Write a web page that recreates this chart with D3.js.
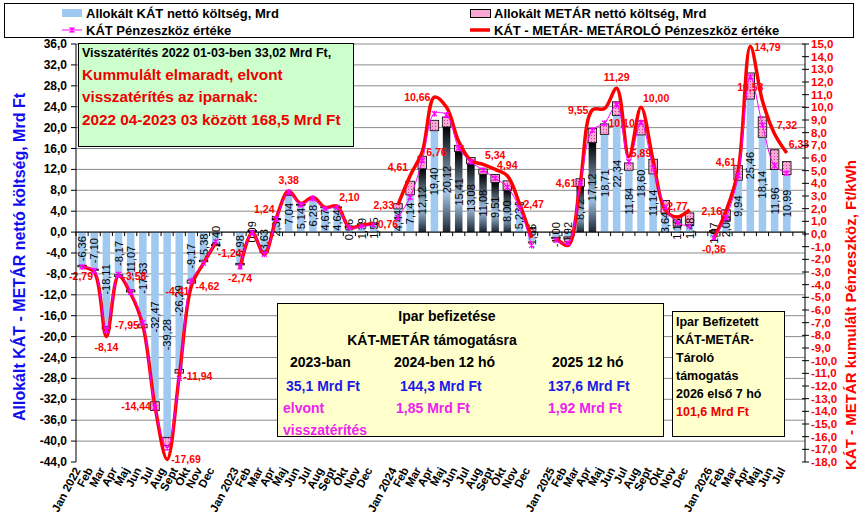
<!DOCTYPE html>
<html>
<head>
<meta charset="utf-8">
<script src="https://cdn.jsdelivr.net/npm/d3@7"></script>
<style>
  body { margin: 0; background: #fff; }
  svg { display: block; font-family: Arial, "Liberation Sans", sans-serif; }
</style>
</head>
<body>
<script>
const WIDTH = 859;
const HEIGHT = 525;
const PLOT = {left: 76, right: 805, top: 44, bottom: 462};

// categories, "" = spacer between the years
const CATEGORIES = ["Jan 2022","Feb","Mar","Apr","Maj","Jun","Jul","Aug","Sept","Okt","Nov","Dec","",
                    "Jan 2023","Feb","Mar","Apr","Maj","Jun","Jul","Aug","Sept","Okt","Nov","Dec","",
                    "Jan 2024","Feb","Mar","Apr","Maj","Jun","Jul","Aug","Sept","Okt","Nov","Dec","",
                    "Jan 2025","Feb","Mar","Apr","Maj","Jun","Jul","Aug","Sept","Okt","Nov","Dec","",
                    "Jan 2026","Feb","Mar","Apr","Maj","Jun","Jul",""];

// Allokált KÁT nettó költség, Mrd Ft (left axis)
const KAT = [-6.36,-7.10,-18.11,-8.17,-11.07,-17.63,-32.47,-39.28,-26.29,-9.17,-5.38,-2.40,null,
             -5.98,0.09,-3.63,2.37,7.04,5.14,6.28,4.67,4.64,0.96,1.39,1.55,null,
             4.44,7.14,12.12,19.40,20.12,15.41,13.08,11.08,9.51,8.00,5.23,-1.66,null,
             -1.00,-0.92,8.72,17.12,18.71,22.34,11.84,18.60,11.14,3.64,1.16,1.48,null,
             -1.07,2.08,9.94,25.46,18.14,11.96,10.99,null];

// Allokált METÁR nettó költség, Mrd Ft (stacked on KÁT)
const METAR = [-0.3,-0.2,-0.4,-0.3,-0.4,-0.7,-1.7,-1.6,-0.7,-0.6,-0.3,-0.2,null,
               -0.3,0.2,-0.2,0.2,0.2,0.2,0.2,0.2,0.2,0.2,0.2,0.2,null,
               1.0,2.6,2.4,2.0,1.9,1.2,1.2,1.0,1.5,1.8,0.4,0.9,null,
               -0.2,-0.4,1.5,2.7,2.0,2.6,1.4,2.7,2.8,2.4,1.9,2.2,null,
               0.3,2.2,2.8,5.0,3.9,3.8,2.5,null];

// KÁT - METÁR - METÁROLÓ Pénzeszköz értéke, Ft/kWh (right axis)
const KMM_PENZ = [-2.6,-3.0,-8.1,-3.3,-4.7,-7.2,-13.6,-17.8,-11.2,-4.1,-2.3,-0.7,null,
                  -2.7,0.1,-1.6,1.3,3.4,2.4,2.9,2.1,2.2,0.5,0.7,0.8,null,
                  2.3,4.6,6.5,10.8,10.0,7.3,5.8,5.5,5.1,4.6,2.4,-0.3,null,
                  -0.3,-0.9,4.0,9.8,9.9,11.5,6.1,10.0,5.8,1.9,1.35,1.9,null,
                  -0.36,1.8,5.0,14.8,10.5,7.9,6.4,null];

// KÁT Pénzeszköz értéke, Ft/kWh (right axis)
const KAT_PENZ = [-2.6,-2.9,-7.6,-3.2,-4.6,-7.0,-13.7,-16.9,-11.4,-3.7,-2.3,-0.6,null,
                  -2.6,0.1,-1.6,1.2,3.3,2.3,2.8,2.0,2.1,0.5,0.6,0.7,null,
                  1.3,2.9,5.8,9.5,9.4,6.8,5.7,5.05,4.4,3.7,2.05,-0.9,null,
                  -0.5,-0.7,4.0,8.2,8.75,10.2,5.7,8.8,5.2,2.1,0.9,0.6,null,
                  -0.3,1.3,4.6,12.4,8.6,5.4,4.8,null];

// data labels of the lines
const KMM_LABELS = ["-2,79",null,"-8,14","-3,58",null,"-7,95","-14,44","-17,69","-11,94","-4,62",null,"-1,24",null,
                    "-2,74",null,null,"1,24","3,38",null,null,null,"2,10",null,null,"0,76",null,
                    "2,33","4,61","6,76","10,66",null,null,null,"5,34",null,"4,94","2,47",null,null,
                    null,null,"4,61","9,55",null,"11,29",null,"10,00",null,null,"2,77",null,null,
                    "-0,36","2,16","4,61","14,79",null,"7,32","6,33",null];
const KAT_LABELS = {9: "-4,41", 43: "10,10", 45: "5,89", 55: "10,58"};

const LEFT_TICKS = d3.range(-44, 36.01, 4);
const RIGHT_TICKS = d3.range(-18, 15.01, 1);

//label placement around the point (style only)
const KMM_SIDE = {0:"bs",2:"b",3:"r",5:"l",6:"l",7:"r",8:"r",9:"r",11:"br",13:"b",16:"al",17:"a",21:"ar",24:"r",
                  26:"l",27:"al",28:"r",29:"l",33:"ar",35:"a",36:"r",41:"l",42:"l",44:"a",46:"ar",49:"a",
                  52:"b",53:"l",54:"al",55:"r",57:"ar",58:"ar"};
const KAT_SIDE = {9:"bl",43:"r",45:"ar",55:"b"};
const DARK_BARS = [28,30,31,32,33,34,35,41,42];

const BLUE_BAR = "#9fc9f0";
const RED = "#ff0000";
const MAGENTA = "#ff00ff";

const svg = d3.select("body")
              .append("svg")
              .attr("width", WIDTH)
              .attr("height", HEIGHT);

svg.append("rect").attr("width", WIDTH).attr("height", HEIGHT).attr("fill", "#fff");

const defs = svg.append("defs");
const grad = defs.append("linearGradient")
                 .attr("id", "darkBar")
                 .attr("x1", 0).attr("y1", 0).attr("x2", 0).attr("y2", 1);
[[0, "#000000"], [0.62, "#a7c9ea"], [1, "#1c2531"]].forEach(([o, c]) =>
  grad.append("stop").attr("offset", o).attr("stop-color", c));

const pat = defs.append("pattern")
                .attr("id", "metarFill")
                .attr("width", 3).attr("height", 3)
                .attr("patternUnits", "userSpaceOnUse");
pat.append("rect").attr("width", 3).attr("height", 3).attr("fill", "#f8a8d2");
pat.append("rect").attr("width", 1).attr("height", 1).attr("fill", "#e03aa8");

//the scales
const x = d3.scaleBand()
            .domain(d3.range(CATEGORIES.length))
            .range([PLOT.left, PLOT.right])
            .paddingInner(0.38)
            .paddingOuter(0.19);
const yL = d3.scaleLinear().domain([-44, 36]).range([PLOT.bottom, PLOT.top]);
const yR = d3.scaleLinear().domain([-18, 15]).range([PLOT.bottom, PLOT.top]);
const cx = i => x(i) + x.bandwidth() / 2;
const comma = v => d3.format(".1f")(v).replace(".", ",").replace("−", "-");
const IDX = d3.range(CATEGORIES.length);

//gridlines
svg.append("g")
   .selectAll("line")
   .data(LEFT_TICKS.filter(t => t > -44))
   .enter()
   .append("line")
   .attr("x1", PLOT.left).attr("x2", PLOT.right)
   .attr("y1", d => yL(d)).attr("y2", d => yL(d))
   .attr("stroke", "#8a8a8a");

//KÁT bars
svg.append("g")
   .selectAll("rect")
   .data(IDX.filter(i => KAT[i] != null))
   .enter()
   .append("rect")
   .attr("x", i => x(i))
   .attr("width", x.bandwidth())
   .attr("y", i => yL(Math.max(0, KAT[i])))
   .attr("height", i => Math.abs(yL(KAT[i]) - yL(0)))
   .attr("fill", i => DARK_BARS.includes(i) ? "url(#darkBar)" : BLUE_BAR);

//METÁR segments
const metarBase = i => Math.sign(METAR[i]) === Math.sign(KAT[i]) ? KAT[i] : 0;
svg.append("g")
   .selectAll("rect")
   .data(IDX.filter(i => METAR[i] != null))
   .enter()
   .append("rect")
   .attr("x", i => x(i) - 0.5)
   .attr("width", x.bandwidth() + 1)
   .attr("y", i => yL(Math.max(metarBase(i), metarBase(i) + METAR[i])))
   .attr("height", i => Math.abs(yL(metarBase(i) + METAR[i]) - yL(metarBase(i))))
   .attr("fill", "url(#metarFill)")
   .attr("stroke", "#000")
   .attr("stroke-width", 0.8);

//zero line with category ticks
svg.append("line")
   .attr("x1", PLOT.left).attr("x2", PLOT.right)
   .attr("y1", yL(0)).attr("y2", yL(0))
   .attr("stroke", "#000");
svg.append("g")
   .selectAll("line")
   .data(d3.range(CATEGORIES.length + 1))
   .enter()
   .append("line")
   .attr("x1", i => PLOT.left + i * x.step()).attr("x2", i => PLOT.left + i * x.step())
   .attr("y1", yL(0)).attr("y2", yL(0) + 4)
   .attr("stroke", "#000");

//bar value labels
svg.append("g")
   .selectAll("text")
   .data(IDX.filter(i => KAT[i] != null))
   .enter()
   .append("text")
   .attr("transform", i => "translate(" + (cx(i) + 4) + "," + ((yL(KAT[i]) + yL(0)) / 2) + ") rotate(-90)")
   .attr("text-anchor", "middle")
   .attr("font-size", 11)
   .attr("fill", "#000")
   .text(i => d3.format(".2f")(KAT[i]).replace(".", ",").replace("−", "-"));

//the lines
const lineGen = arr => d3.line()
                         .defined(i => arr[i] != null)
                         .x(i => cx(i))
                         .y(i => yR(arr[i]))
                         .curve(d3.curveCatmullRom.alpha(0.5))(IDX);

svg.append("path")
   .attr("d", lineGen(KMM_PENZ))
   .attr("fill", "none")
   .attr("stroke", RED)
   .attr("stroke-width", 3.5)
   .attr("stroke-linejoin", "round");

svg.append("path")
   .attr("d", lineGen(KAT_PENZ))
   .attr("fill", "none")
   .attr("stroke", MAGENTA)
   .attr("stroke-width", 1);

svg.append("g")
   .selectAll("path")
   .data(IDX.filter(i => KAT_PENZ[i] != null))
   .enter()
   .append("path")
   .attr("transform", i => "translate(" + cx(i) + "," + yR(KAT_PENZ[i]) + ")")
   .attr("d", "M-2.5,-2.5L2.5,2.5M-2.5,2.5L2.5,-2.5M0,-3V3")
   .attr("stroke", MAGENTA)
   .attr("stroke-width", 1.2);

//line labels
const place = (side, px, py) => {
  const o = {l: [-4, 4, "end"], bs: [-13, 13, "start"], r: [4, 4, "start"], a: [0, -7, "middle"], b: [0, 14, "middle"],
             al: [-2, -5, "end"], ar: [2, -5, "start"], bl: [-2, 14, "end"], br: [2, 14, "start"]}[side || "a"];
  return {x: px + o[0], y: py + o[1], anchor: o[2]};
};
const lineLabels = [];
IDX.forEach(i => { if (KMM_LABELS[i]) lineLabels.push({p: place(KMM_SIDE[i], cx(i), yR(KMM_PENZ[i])), t: KMM_LABELS[i]}); });
Object.keys(KAT_LABELS).forEach(k => lineLabels.push({p: place(KAT_SIDE[k], cx(+k), yR(KAT_PENZ[+k])), t: KAT_LABELS[k]}));

svg.append("g")
   .selectAll("text")
   .data(lineLabels)
   .enter()
   .append("text")
   .attr("x", d => d.p.x).attr("y", d => d.p.y)
   .attr("text-anchor", d => d.p.anchor)
   .attr("font-size", 10.5)
   .attr("font-weight", "bold")
   .attr("fill", RED)
   .text(d => d.t);

//left axis
const leftAxis = svg.append("g");
leftAxis.append("line")
        .attr("x1", PLOT.left).attr("x2", PLOT.left)
        .attr("y1", PLOT.top).attr("y2", PLOT.bottom)
        .attr("stroke", "#000");
const lt = leftAxis.selectAll("g").data(LEFT_TICKS).enter().append("g")
                   .attr("transform", d => "translate(0," + yL(d) + ")");
lt.append("line").attr("x1", PLOT.left - 5).attr("x2", PLOT.left).attr("stroke", "#000");
lt.append("text")
  .attr("x", 67).attr("y", 4)
  .attr("text-anchor", "end")
  .attr("font-size", 12).attr("font-weight", "bold")
  .text(d => comma(d));

//right axis
const rightAxis = svg.append("g");
rightAxis.append("line")
         .attr("x1", PLOT.right).attr("x2", PLOT.right)
         .attr("y1", PLOT.top).attr("y2", PLOT.bottom)
         .attr("stroke", "#000");
const rt = rightAxis.selectAll("g").data(RIGHT_TICKS).enter().append("g")
                    .attr("transform", d => "translate(0," + yR(d) + ")");
rt.append("line").attr("x1", PLOT.right - 3).attr("x2", PLOT.right + 4).attr("stroke", "#000");
rt.append("text")
  .attr("x", 811).attr("y", 4)
  .attr("font-size", 11.5).attr("font-weight", "bold")
  .attr("fill", RED)
  .text(d => comma(d));

//x labels
svg.append("g")
   .selectAll("text")
   .data(IDX.filter(i => CATEGORIES[i] !== ""))
   .enter()
   .append("text")
   .attr("transform", i => "translate(" + (cx(i) - 1) + "," + 470 + ") rotate(-62)")
   .attr("text-anchor", "end")
   .attr("font-size", 11.5).attr("font-weight", "bold")
   .text(i => CATEGORIES[i]);

//axis titles
svg.append("text")
   .attr("transform", "translate(25,257) rotate(-90)")
   .attr("text-anchor", "middle")
   .attr("font-size", 16).attr("font-weight", "bold")
   .attr("fill", "#1010ee")
   .text("Allokált KÁT - METÁR nettó költség, Mrd Ft");
svg.append("text")
   .attr("transform", "translate(856,315) rotate(-90)")
   .attr("text-anchor", "middle")
   .attr("font-size", 15).attr("font-weight", "bold")
   .attr("fill", RED)
   .text("KÁT - METÁR  kumulált Pénzeszköz, Ft/kWh");

//legend
const legend = svg.append("g").attr("font-size", 13).attr("font-weight", "bold");
legend.append("rect").attr("x", 4.5).attr("y", 3.5).attr("width", 849).attr("height", 34)
      .attr("fill", "#fff").attr("stroke", "#000");
legend.append("rect").attr("x", 62).attr("y", 9).attr("width", 20).attr("height", 8).attr("fill", BLUE_BAR);
legend.append("text").attr("x", 86).attr("y", 18).text("Allokált KÁT nettó költség, Mrd");
legend.append("line").attr("x1", 62).attr("x2", 82).attr("y1", 30).attr("y2", 30).attr("stroke", MAGENTA);
legend.append("path").attr("transform", "translate(72,30)").attr("d", "M-2.5,-2.5L2.5,2.5M-2.5,2.5L2.5,-2.5M0,-3V3")
      .attr("stroke", MAGENTA).attr("stroke-width", 1.2);
legend.append("text").attr("x", 86).attr("y", 35).text("KÁT Pénzeszköz értéke");
legend.append("rect").attr("x", 470.5).attr("y", 9.5).attr("width", 20).attr("height", 8)
      .attr("fill", "#f8a8d2").attr("stroke", "#000");
legend.append("text").attr("x", 494).attr("y", 18).text("Allokált METÁR nettó költség, Mrd");
legend.append("line").attr("x1", 470).attr("x2", 490).attr("y1", 30).attr("y2", 30)
      .attr("stroke", RED).attr("stroke-width", 3.5);
legend.append("text").attr("x", 494).attr("y", 35).text("KÁT - METÁR- METÁROLÓ Pénzeszköz értéke");

//text boxes
const textBox = (bx, by, bw, bh, fill, lines) => {
  const g = svg.append("g").attr("font-weight", "bold");
  g.append("rect").attr("x", bx + 0.5).attr("y", by + 0.5).attr("width", bw).attr("height", bh)
   .attr("fill", fill).attr("stroke", "#000");
  lines.forEach(l => g.append("text")
                      .attr("x", l[0]).attr("y", l[1])
                      .attr("font-size", l[2])
                      .attr("fill", l[3])
                      .attr("text-anchor", l[5] || "start")
                      .text(l[4]));
};

textBox(78, 43, 275, 103, "#ccffcc", [
  [82, 57, 12.5, "#000", "Visszatérítés 2022 01-03-ben 33,02 Mrd Ft,"],
  [82, 80, 15.3, "#ee0000", "Kummulált elmaradt, elvont"],
  [82, 102, 15.3, "#ee0000", "visszatérítés az iparnak:"],
  [82, 125, 15.3, "#ee0000", "2022 04-2023 03 között 168,5 Mrd Ft"]
]);

textBox(277, 303, 386, 133, "#ffffcc", [
  [447, 321, 14, "#000", "Ipar  befizetése", "middle"],
  [432, 345, 14, "#000", "KÁT-METÁR támogatásra", "middle"],
  [290, 367, 14, "#000", "2023-ban"],
  [394, 367, 14, "#000", "2024-ben 12 hó"],
  [552, 367, 14, "#000", "2025 12 hó"],
  [286, 391, 14, "#1a1ae6", "35,1 Mrd Ft"],
  [400, 391, 14, "#1a1ae6", "144,3 Mrd Ft"],
  [548, 391, 14, "#1a1ae6", "137,6 Mrd Ft"],
  [283, 413, 14, "#ee22ee", "elvont"],
  [396, 413, 14, "#ee22ee", "1,85 Mrd Ft"],
  [548, 413, 14, "#ee22ee", "1,92 Mrd Ft"],
  [283, 435, 14, "#ee22ee", "visszatérítés"]
]);

textBox(672, 311, 112, 125, "#ffffcc", [
  [676, 326, 12.5, "#000", "Ipar Befizetett"],
  [676, 344, 12.5, "#000", "KÁT-METÁR-"],
  [676, 362, 12.5, "#000", "Tároló"],
  [676, 380, 12.5, "#000", "támogatás"],
  [676, 398, 12.5, "#000", "2026 első 7 hó"],
  [676, 416, 12.5, "#ee0000", "101,6 Mrd Ft"]
]);
</script>
</body>
</html>
